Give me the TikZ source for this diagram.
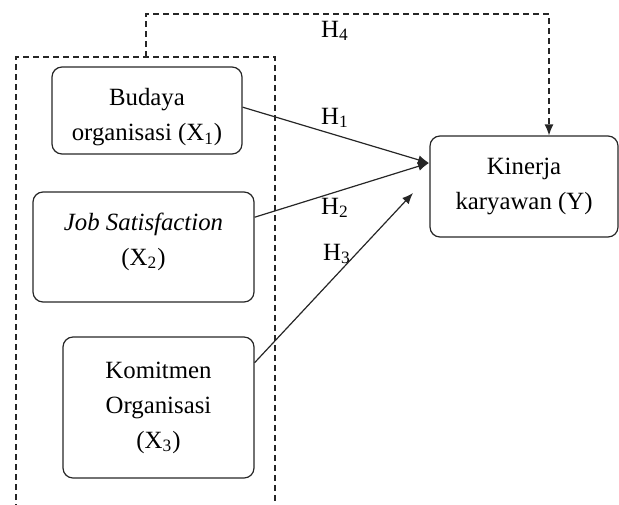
\documentclass[tikz,border=0pt]{standalone}
\usepackage{fontspec}
\setmainfont{Liberation Serif}
\usetikzlibrary{arrows.meta}
\tikzstyle{varbox} = [rectangle, rounded corners=5pt, draw=black!85, line width=0.6pt, align=center, inner sep=0pt]
\tikzstyle{hyp} = [-{Latex[length=5.5pt,width=4.5pt]}, line width=0.6pt, black!85]
\tikzstyle{hypdash} = [hyp, dash pattern=on 3pt off 2pt]
\tikzstyle{frame} = [line width=0.6pt, black!85, dash pattern=on 3pt off 2pt]
\tikzstyle{hlabel} = [inner sep=0pt]

\begin{document}
\begin{tikzpicture}[x=0.5pt, y=-0.5pt, font=\fontsize{12.4}{17.5}\selectfont]
\useasboundingbox (0,0) rectangle (619,504);

% independent variables
\node[varbox, minimum width=95pt, minimum height=43.5pt] (x1) at (147,110.5) {\rule{0pt}{15.5pt}Budaya\\organisasi (X\textsubscript{1})};
\node[varbox, minimum width=110.5pt, minimum height=55pt] (x2) at (143.5,247) {\textit{Job Satisfaction}\\(X\textsubscript{2})\rule[-8pt]{0pt}{8pt}};
\node[varbox, minimum width=95.5pt, minimum height=70.5pt] (x3) at (158.5,407.5) {Komitmen\\Organisasi\\(X\textsubscript{3})};
% dependent variable
\node[varbox, minimum width=94pt, minimum height=50.5pt] (y) at (524,186.5) {Kinerja\\karyawan (Y)};

% dashed frame round X1, X2, X3 (open at the bottom)
\coordinate (fbl) at (16,510);
\coordinate (ftl) at (16,57);
\coordinate (ftr) at (275,57);
\coordinate (fbr) at (275,510);
\coordinate (ftop) at (146,57);
\draw[frame] (fbl) -- (ftl) -- (ftr) -- (fbr);

% arrow ends
\coordinate (hit) at (429,163);
\coordinate (h3end) at (413,193);

% hypotheses
\draw[hyp] (x1.2) -- (hit);
\draw[hyp] (x2.15) -- (hit);
\draw[hyp] (x3.25) -- (h3end);
\draw[hypdash] (ftop) -- (146,14) -- (549,14) -- (y.north -| 549,0);

% labels
\node[hlabel] (h1) at (335,118) {H\textsubscript{1}};
\node[hlabel] (h2) at (335,208) {H\textsubscript{2}};
\node[hlabel] (h3) at (337,254) {H\textsubscript{3}};
\node[hlabel] (h4) at (335,31) {H\textsubscript{4}};
\end{tikzpicture}
\end{document}
